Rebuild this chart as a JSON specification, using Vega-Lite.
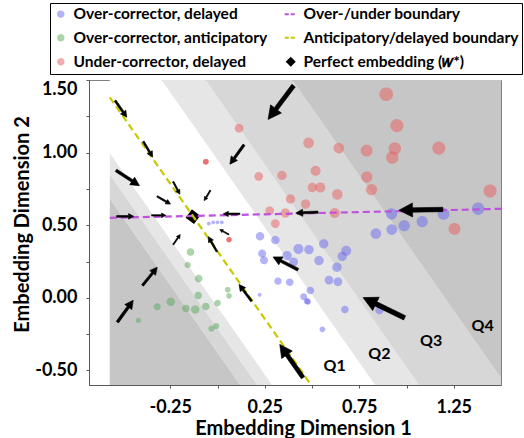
{
  "$schema": "https://vega.github.io/schema/vega-lite/v6.json",
  "width": 412,
  "height": 305,
  "autosize": {"type": "none"},
  "padding": {"left": 89, "top": 80, "right": 23, "bottom": 53},
  "background": "white",
  "config": {
    "font": "Lato",
    "view": {"stroke": "#808080", "strokeWidth": 1},
    "axis": {
      "labelFont": "Lato", "labelFontSize": 18, "labelFontWeight": "bold", "labelColor": "#000",
      "titleFont": "Lato", "titleFontSize": 20, "titleFontWeight": "bold", "titleColor": "#000",
      "domainColor": "#595959", "tickColor": "#595959", "tickSize": 3, "grid": false
    },
    "legend": {
      "orient": "none", "legendX": -39, "legendY": -77, "columns": 2,
      "strokeColor": "#000", "fillColor": "#fff", "padding": 3, "rowPadding": 7, "columnPadding": 12,
      "symbolSize": 144, "symbolStrokeWidth": 2, "labelOffset": 5,
      "labelFont": "Lato", "labelFontSize": 15.5, "labelFontWeight": "bold", "labelColor": "#000", "labelLimit": 400
    }
  },
  "datasets": {
    "bands": [
      {"zone": "Q4a", "x": -0.57, "lo": -0.6, "hi": 0.684}, {"zone": "Q4a", "x": 1.5, "lo": -0.6, "hi": -3.165},
      {"zone": "Q3a", "x": -0.57, "lo": 0.684, "hi": 0.851}, {"zone": "Q3a", "x": 1.5, "lo": -3.165, "hi": -2.998},
      {"zone": "Q2a", "x": -0.57, "lo": 0.851, "hi": 0.998}, {"zone": "Q2a", "x": 1.5, "lo": -2.998, "hi": -2.851},
      {"zone": "Q1", "x": -0.57, "lo": 0.998, "hi": 2.010}, {"zone": "Q1", "x": 1.5, "lo": -2.851, "hi": -1.839},
      {"zone": "Q2b", "x": -0.57, "lo": 2.010, "hi": 2.442}, {"zone": "Q2b", "x": 1.5, "lo": -1.839, "hi": -1.407},
      {"zone": "Q3b", "x": -0.57, "lo": 2.442, "hi": 3.296}, {"zone": "Q3b", "x": 1.5, "lo": -1.407, "hi": -0.553},
      {"zone": "Q4b", "x": -0.57, "lo": 3.296, "hi": 1.5}, {"zone": "Q4b", "x": 1.5, "lo": -0.553, "hi": 1.5}
    ],
    "points": [
      {"g": "Under-corrector, delayed", "x": 0.114, "y": 1.168, "n": 7.3},
      {"g": "Under-corrector, delayed", "x": -0.062, "y": 0.937, "n": 4},
      {"g": "Under-corrector, delayed", "x": -0.062, "y": 0.937, "n": 4},
      {"g": "Under-corrector, delayed", "x": -0.062, "y": 0.937, "n": 4},
      {"g": "Under-corrector, delayed", "x": 0.482, "y": 1.067, "n": 9.3},
      {"g": "Under-corrector, delayed", "x": 0.218, "y": 0.836, "n": 7.3},
      {"g": "Under-corrector, delayed", "x": 0.341, "y": 0.843, "n": 8},
      {"g": "Under-corrector, delayed", "x": 0.519, "y": 0.875, "n": 8.7},
      {"g": "Under-corrector, delayed", "x": 0.502, "y": 0.760, "n": 8},
      {"g": "Under-corrector, delayed", "x": 0.544, "y": 0.760, "n": 8.7},
      {"g": "Under-corrector, delayed", "x": 0.386, "y": 0.681, "n": 8},
      {"g": "Under-corrector, delayed", "x": 0.466, "y": 0.646, "n": 8},
      {"g": "Under-corrector, delayed", "x": 0.276, "y": 0.600, "n": 7.3},
      {"g": "Under-corrector, delayed", "x": 0.359, "y": 0.584, "n": 8},
      {"g": "Under-corrector, delayed", "x": 0.306, "y": 0.511, "n": 7.3},
      {"g": "Under-corrector, delayed", "x": 0.061, "y": 0.401, "n": 3.5},
      {"g": "Under-corrector, delayed", "x": 0.061, "y": 0.401, "n": 3.5},
      {"g": "Under-corrector, delayed", "x": 0.061, "y": 0.401, "n": 3.5},
      {"g": "Under-corrector, delayed", "x": 0.893, "y": 1.402, "n": 12.7},
      {"g": "Under-corrector, delayed", "x": 0.949, "y": 1.186, "n": 12},
      {"g": "Under-corrector, delayed", "x": 0.642, "y": 1.031, "n": 9.3},
      {"g": "Under-corrector, delayed", "x": 0.789, "y": 1.014, "n": 10.7},
      {"g": "Under-corrector, delayed", "x": 0.938, "y": 1.028, "n": 11.3},
      {"g": "Under-corrector, delayed", "x": 0.925, "y": 0.966, "n": 11.3},
      {"g": "Under-corrector, delayed", "x": 1.171, "y": 1.031, "n": 12},
      {"g": "Under-corrector, delayed", "x": 0.790, "y": 0.832, "n": 10},
      {"g": "Under-corrector, delayed", "x": 0.815, "y": 0.745, "n": 10},
      {"g": "Under-corrector, delayed", "x": 0.634, "y": 0.712, "n": 9.3},
      {"g": "Under-corrector, delayed", "x": 0.620, "y": 0.584, "n": 8.7},
      {"g": "Under-corrector, delayed", "x": 1.442, "y": 0.736, "n": 12},
      {"g": "Under-corrector, delayed", "x": 1.254, "y": 0.475, "n": 10.7},
      {"g": "Over-corrector, delayed", "x": 0.921, "y": 0.578, "n": 10},
      {"g": "Over-corrector, delayed", "x": 1.196, "y": 0.578, "n": 10.7},
      {"g": "Over-corrector, delayed", "x": 1.379, "y": 0.614, "n": 11.3},
      {"g": "Over-corrector, delayed", "x": 0.988, "y": 0.497, "n": 10},
      {"g": "Over-corrector, delayed", "x": 1.083, "y": 0.525, "n": 10},
      {"g": "Over-corrector, delayed", "x": 0.922, "y": 0.470, "n": 9.3},
      {"g": "Over-corrector, delayed", "x": 0.838, "y": 0.442, "n": 9.3},
      {"g": "Over-corrector, delayed", "x": -0.046, "y": 0.511, "n": 2},
      {"g": "Over-corrector, delayed", "x": -0.023, "y": 0.520, "n": 2},
      {"g": "Over-corrector, delayed", "x": 0.000, "y": 0.520, "n": 2},
      {"g": "Over-corrector, delayed", "x": 0.023, "y": 0.520, "n": 2},
      {"g": "Over-corrector, delayed", "x": 0.225, "y": 0.424, "n": 7},
      {"g": "Over-corrector, delayed", "x": 0.306, "y": 0.398, "n": 7},
      {"g": "Over-corrector, delayed", "x": 0.236, "y": 0.305, "n": 6.5},
      {"g": "Over-corrector, delayed", "x": 0.246, "y": 0.259, "n": 6.5},
      {"g": "Over-corrector, delayed", "x": 0.368, "y": 0.291, "n": 8},
      {"g": "Over-corrector, delayed", "x": 0.428, "y": 0.337, "n": 8.7},
      {"g": "Over-corrector, delayed", "x": 0.484, "y": 0.332, "n": 8},
      {"g": "Over-corrector, delayed", "x": 0.403, "y": 0.248, "n": 7.3},
      {"g": "Over-corrector, delayed", "x": 0.537, "y": 0.257, "n": 8},
      {"g": "Over-corrector, delayed", "x": 0.320, "y": 0.115, "n": 5.7},
      {"g": "Over-corrector, delayed", "x": 0.382, "y": 0.108, "n": 6},
      {"g": "Over-corrector, delayed", "x": 0.491, "y": 0.051, "n": 6},
      {"g": "Over-corrector, delayed", "x": 0.456, "y": 0.008, "n": 5.3},
      {"g": "Over-corrector, delayed", "x": 0.473, "y": -0.023, "n": 4.5},
      {"g": "Over-corrector, delayed", "x": 0.478, "y": -0.026, "n": 4.5},
      {"g": "Over-corrector, delayed", "x": 0.223, "y": 0.021, "n": 2},
      {"g": "Over-corrector, delayed", "x": 0.562, "y": 0.372, "n": 8},
      {"g": "Over-corrector, delayed", "x": 0.660, "y": 0.286, "n": 8},
      {"g": "Over-corrector, delayed", "x": 0.681, "y": 0.324, "n": 8.7},
      {"g": "Over-corrector, delayed", "x": 0.632, "y": 0.211, "n": 8},
      {"g": "Over-corrector, delayed", "x": 0.590, "y": 0.122, "n": 7.3},
      {"g": "Over-corrector, delayed", "x": 0.637, "y": 0.111, "n": 7.3},
      {"g": "Over-corrector, delayed", "x": 0.674, "y": -0.080, "n": 6},
      {"g": "Over-corrector, delayed", "x": 0.857, "y": -0.084, "n": 7},
      {"g": "Over-corrector, delayed", "x": 0.555, "y": -0.217, "n": 4},
      {"g": "Over-corrector, anticipatory", "x": -0.143, "y": 0.315, "n": 6},
      {"g": "Over-corrector, anticipatory", "x": -0.158, "y": 0.227, "n": 4.5},
      {"g": "Over-corrector, anticipatory", "x": -0.100, "y": 0.133, "n": 6},
      {"g": "Over-corrector, anticipatory", "x": 0.054, "y": 0.056, "n": 4},
      {"g": "Over-corrector, anticipatory", "x": 0.061, "y": 0.014, "n": 4},
      {"g": "Over-corrector, anticipatory", "x": -0.102, "y": 0.016, "n": 6},
      {"g": "Over-corrector, anticipatory", "x": -0.247, "y": -0.027, "n": 7},
      {"g": "Over-corrector, anticipatory", "x": -0.319, "y": -0.061, "n": 5.5},
      {"g": "Over-corrector, anticipatory", "x": -0.167, "y": -0.073, "n": 6},
      {"g": "Over-corrector, anticipatory", "x": -0.118, "y": -0.080, "n": 7},
      {"g": "Over-corrector, anticipatory", "x": -0.062, "y": -0.059, "n": 6},
      {"g": "Over-corrector, anticipatory", "x": 0.000, "y": -0.036, "n": 5},
      {"g": "Over-corrector, anticipatory", "x": -0.419, "y": -0.155, "n": 3.5},
      {"g": "Over-corrector, anticipatory", "x": -0.032, "y": -0.212, "n": 4.5},
      {"g": "Over-corrector, anticipatory", "x": -0.007, "y": -0.194, "n": 4.5}
    ],
    "ouLine": [
      {"x": -0.57, "y": 0.551},
      {"x": 1.5, "y": 0.613}
    ],
    "adLine": [
      {"x": -0.57, "y": 1.381},
      {"x": 0.495, "y": -0.6}
    ],
    "arrows": [
      {"x": -0.511, "y": 1.301, "heading": 145, "mag": 20.3},
      {"x": -0.368, "y": 1.023, "heading": 149, "mag": 18.2},
      {"x": -0.217, "y": 0.757, "heading": 152, "mag": 14.2},
      {"x": -0.475, "y": 0.825, "heading": 123, "mag": 27.9},
      {"x": -0.284, "y": 0.672, "heading": 120, "mag": 15.4},
      {"x": -0.054, "y": 0.705, "heading": 211, "mag": 12},
      {"x": 0.103, "y": 0.987, "heading": 216, "mag": 24},
      {"x": 0.335, "y": 1.345, "heading": 217, "mag": 42.3},
      {"x": -0.488, "y": 0.561, "heading": 90, "mag": 17.3},
      {"x": -0.311, "y": 0.568, "heading": 90, "mag": 14.3},
      {"x": 0.074, "y": 0.578, "heading": 270, "mag": 16.7},
      {"x": 0.473, "y": 0.587, "heading": 268, "mag": 22.3},
      {"x": 1.076, "y": 0.606, "heading": 269, "mag": 44},
      {"x": -0.216, "y": 0.401, "heading": 35, "mag": 12.2},
      {"x": 0.036, "y": 0.453, "heading": 299, "mag": 10.3},
      {"x": -0.026, "y": 0.370, "heading": 330, "mag": 17.3},
      {"x": 0.147, "y": 0.035, "heading": 323, "mag": 20.8},
      {"x": 0.391, "y": -0.435, "heading": 325, "mag": 40.6},
      {"x": 0.360, "y": 0.238, "heading": 297, "mag": 28},
      {"x": -0.358, "y": 0.148, "heading": 39, "mag": 23.4},
      {"x": -0.488, "y": -0.092, "heading": 36, "mag": 27},
      {"x": 0.880, "y": -0.068, "heading": 296, "mag": 46.2}
    ],
    "quartiles": [
      {"label": "Q1", "x": 0.620, "y": -0.469},
      {"label": "Q2", "x": 0.857, "y": -0.389},
      {"label": "Q3", "x": 1.130, "y": -0.297},
      {"label": "Q4", "x": 1.403, "y": -0.194}
    ],
    "wstar": [{"x": -0.130, "y": 0.559}]
  },
  "encoding": {
    "x": {
      "field": "x", "type": "quantitative",
      "scale": {"domain": [-0.68, 1.5], "nice": false, "zero": false},
      "axis": {
        "title": "Embedding Dimension 1",
        "values": [-0.25, 0, 0.25, 0.5, 0.75, 1, 1.25],
        "labelExpr": "(datum.value + 0.25) % 0.5 === 0 ? (datum.value < 0 ? '-' : '') + format(abs(datum.value), '.2f') : ''",
        "labelPadding": 10, "labelFlush": false,
        "titleX": 214, "titleY": 49, "titleBaseline": "alphabetic", "titleAlign": "center"
      }
    },
    "y": {
      "field": "y", "type": "quantitative",
      "scale": {"domain": [-0.6, 1.5], "nice": false, "zero": false},
      "axis": {
        "title": "Embedding Dimension 2",
        "values": [-0.5, -0.25, 0, 0.25, 0.5, 0.75, 1, 1.25, 1.5],
        "labelExpr": "datum.value % 0.5 === 0 ? (datum.value < 0 ? '-' : '') + format(abs(datum.value), '.2f') : ''",
        "labelPadding": 9, "labelFlush": true,
        "titleX": -67, "titleY": 144, "titleAngle": -90, "titleAlign": "center", "titleBaseline": "middle"
      }
    }
  },
  "layer": [
    {
      "data": {"name": "bands"},
      "mark": {"type": "area", "clip": true, "opacity": 1},
      "encoding": {
        "y": {
          "field": "lo", "type": "quantitative", "stack": null,
          "scale": {"domain": [-0.6, 1.5], "nice": false, "zero": false},
          "axis": {
            "title": "Embedding Dimension 2",
            "values": [-0.5, -0.25, 0, 0.25, 0.5, 0.75, 1, 1.25, 1.5],
            "labelExpr": "datum.value % 0.5 === 0 ? (datum.value < 0 ? '-' : '') + format(abs(datum.value), '.2f') : ''",
            "labelPadding": 9, "labelFlush": true,
            "titleX": -67, "titleY": 144, "titleAngle": -90, "titleAlign": "center", "titleBaseline": "middle"
          }
        },
        "y2": {"field": "hi"},
        "fill": {
          "field": "zone", "type": "nominal", "legend": null,
          "scale": {
            "domain": ["Q4a", "Q3a", "Q2a", "Q1", "Q2b", "Q3b", "Q4b"],
            "range": ["#c6c6c6", "#d7d7d7", "#e6e6e6", "#ffffff", "#e6e6e6", "#d7d7d7", "#c6c6c6"]
          }
        }
      }
    },
    {
      "data": {"name": "points"},
      "mark": {"type": "point", "filled": true},
      "encoding": {
        "color": {
          "field": "g", "type": "nominal", "legend": {"title": null},
          "scale": {
            "domain": ["Over-corrector, delayed", "Over-corrector, anticipatory", "Under-corrector, delayed", "Over-/under boundary", "Anticipatory/delayed boundary", "Perfect embedding (𝑤*)"],
            "range": ["#6a6af0", "#5aaa5a", "#e85e5e", "#c050e0", "#c8c800", "#000000"]
          }
        },
        "stroke": {
          "field": "g", "type": "nominal", "legend": {"title": null},
          "scale": {
            "domain": ["Over-corrector, delayed", "Over-corrector, anticipatory", "Under-corrector, delayed", "Over-/under boundary", "Anticipatory/delayed boundary", "Perfect embedding (𝑤*)"],
            "range": ["#6a6af0", "#5aaa5a", "#e85e5e", "#c050e0", "#c8c800", "#000000"]
          }
        },
        "shape": {
          "field": "g", "type": "nominal", "legend": {"title": null},
          "scale": {
            "domain": ["Over-corrector, delayed", "Over-corrector, anticipatory", "Under-corrector, delayed", "Over-/under boundary", "Anticipatory/delayed boundary", "Perfect embedding (𝑤*)"],
            "range": [
              "M0,-0.45A0.45,0.45,0,1,1,0,0.45A0.45,0.45,0,1,1,0,-0.45Z",
              "M0,-0.45A0.45,0.45,0,1,1,0,0.45A0.45,0.45,0,1,1,0,-0.45Z",
              "M0,-0.45A0.45,0.45,0,1,1,0,0.45A0.45,0.45,0,1,1,0,-0.45Z",
              "M-1,0H1",
              "M-1,0H1",
              "M0,-0.6L0.6,0L0,0.6L-0.6,0Z"
            ]
          }
        },
        "opacity": {
          "field": "g", "type": "nominal", "legend": {"title": null},
          "scale": {
            "type": "ordinal",
            "domain": ["Over-corrector, delayed", "Over-corrector, anticipatory", "Under-corrector, delayed", "Over-/under boundary", "Anticipatory/delayed boundary", "Perfect embedding (𝑤*)"],
            "range": [0.5, 0.5, 0.5, 1, 1, 1]
          }
        },
        "strokeDash": {
          "field": "g", "type": "nominal", "legend": {"title": null},
          "scale": {
            "domain": ["Over-corrector, delayed", "Over-corrector, anticipatory", "Under-corrector, delayed", "Over-/under boundary", "Anticipatory/delayed boundary", "Perfect embedding (𝑤*)"],
            "range": [[1, 0], [1, 0], [1, 0], [4, 2], [4, 2], [1, 0]]
          }
        },
        "size": {
          "field": "n", "type": "quantitative", "legend": null,
          "scale": {"type": "pow", "exponent": 2, "domain": [0, 10], "range": [0, 420]}
        }
      }
    },
    {
      "data": {"name": "wstar"},
      "mark": {"type": "point", "shape": "diamond", "filled": true, "color": "#000", "opacity": 1, "size": 220, "angle": -8}
    },
    {
      "data": {"name": "ouLine"},
      "mark": {"type": "line", "strokeWidth": 2.2, "strokeDash": [7, 4], "clip": true, "color": "#c050e0"},
      "encoding": {}
    },
    {
      "data": {"name": "adLine"},
      "mark": {"type": "line", "strokeWidth": 2.2, "strokeDash": [7, 4], "clip": true, "color": "#c8c800"},
      "encoding": {}
    },
    {
      "data": {"name": "arrows"},
      "mark": {
        "type": "point", "filled": true, "color": "#000", "stroke": "#000", "strokeWidth": 0.6, "opacity": 1,
        "shape": "M-0.1,1L0.1,1L0.1,-0.38L0.32,-0.38L0,-1L-0.32,-0.38L-0.1,-0.38Z"
      },
      "encoding": {
        "angle": {"field": "heading", "type": "quantitative", "scale": {"domain": [0, 360], "range": [0, 360]}},
        "size": {
          "field": "mag", "type": "quantitative", "legend": null,
          "scale": {"type": "pow", "exponent": 2, "domain": [0, 50], "range": [0, 2500]}
        }
      }
    },
    {
      "data": {"name": "quartiles"},
      "mark": {"type": "text", "font": "Lato", "fontSize": 16, "fontWeight": "bold", "color": "#000"},
      "encoding": {"text": {"field": "label"}}
    }
  ],
  "resolve": {"scale": {"size": "independent"}}
}
